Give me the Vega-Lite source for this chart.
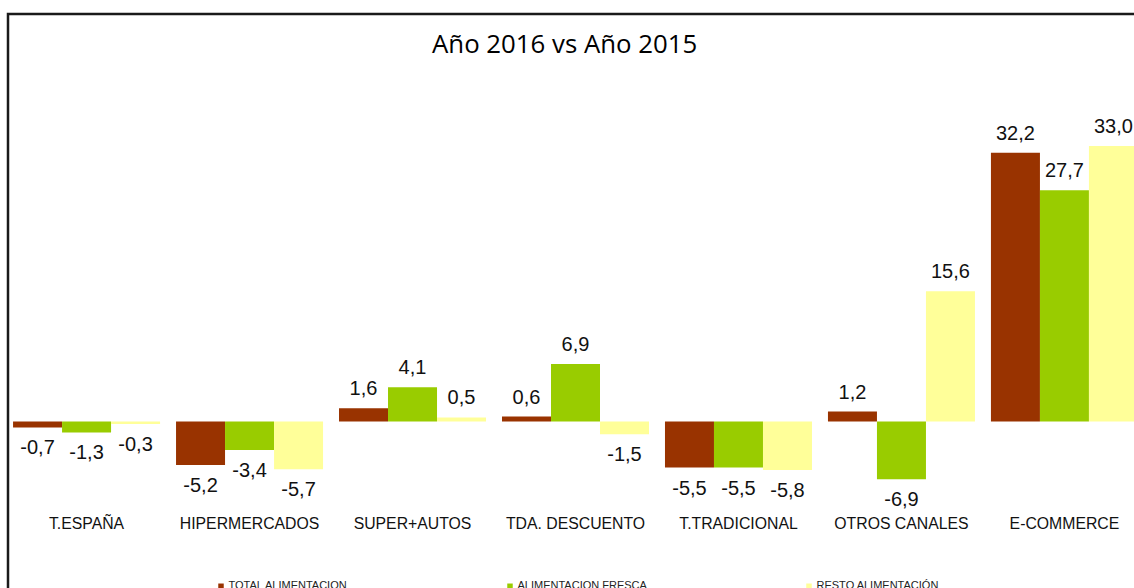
{
  "$schema": "https://vega.github.io/schema/vega-lite/v6.json",
  "autosize": "none",
  "width": 1135,
  "height": 583,
  "padding": {"left": 8, "top": 14, "right": 0, "bottom": 0},
  "background": "#ffffff",
  "title": {
    "text": "Año 2016 vs Año 2015",
    "font": "Open Sans",
    "fontSize": 25.8,
    "fontWeight": "normal",
    "color": "#000000",
    "anchor": "start",
    "dx": 424,
    "offset": -45
  },
  "config": {
    "locale": {"number": {"decimal": ",", "thousands": ".", "grouping": [3], "currency": ["", " €"], "minus": "-"}},
    "view": {"stroke": "#1a1a1a", "strokeWidth": 2.5},
    "font": "Liberation Sans"
  },
  "data": {
    "values": [
      {"canal": "T.ESPAÑA", "serie": "TOTAL ALIMENTACION", "valor": -0.7},
      {"canal": "T.ESPAÑA", "serie": "ALIMENTACION FRESCA", "valor": -1.3},
      {"canal": "T.ESPAÑA", "serie": "RESTO ALIMENTACIÓN", "valor": -0.3},
      {"canal": "HIPERMERCADOS", "serie": "TOTAL ALIMENTACION", "valor": -5.2},
      {"canal": "HIPERMERCADOS", "serie": "ALIMENTACION FRESCA", "valor": -3.4},
      {"canal": "HIPERMERCADOS", "serie": "RESTO ALIMENTACIÓN", "valor": -5.7},
      {"canal": "SUPER+AUTOS", "serie": "TOTAL ALIMENTACION", "valor": 1.6},
      {"canal": "SUPER+AUTOS", "serie": "ALIMENTACION FRESCA", "valor": 4.1},
      {"canal": "SUPER+AUTOS", "serie": "RESTO ALIMENTACIÓN", "valor": 0.5},
      {"canal": "TDA. DESCUENTO", "serie": "TOTAL ALIMENTACION", "valor": 0.6},
      {"canal": "TDA. DESCUENTO", "serie": "ALIMENTACION FRESCA", "valor": 6.9},
      {"canal": "TDA. DESCUENTO", "serie": "RESTO ALIMENTACIÓN", "valor": -1.5},
      {"canal": "T.TRADICIONAL", "serie": "TOTAL ALIMENTACION", "valor": -5.5},
      {"canal": "T.TRADICIONAL", "serie": "ALIMENTACION FRESCA", "valor": -5.5},
      {"canal": "T.TRADICIONAL", "serie": "RESTO ALIMENTACIÓN", "valor": -5.8},
      {"canal": "OTROS CANALES", "serie": "TOTAL ALIMENTACION", "valor": 1.2},
      {"canal": "OTROS CANALES", "serie": "ALIMENTACION FRESCA", "valor": -6.9},
      {"canal": "OTROS CANALES", "serie": "RESTO ALIMENTACIÓN", "valor": 15.6},
      {"canal": "E-COMMERCE", "serie": "TOTAL ALIMENTACION", "valor": 32.2},
      {"canal": "E-COMMERCE", "serie": "ALIMENTACION FRESCA", "valor": 27.7},
      {"canal": "E-COMMERCE", "serie": "RESTO ALIMENTACIÓN", "valor": 33.0}
    ]
  },
  "encoding": {
    "x": {
      "field": "canal",
      "type": "nominal",
      "sort": null,
      "scale": {"paddingInner": 0.098, "paddingOuter": 0.031},
      "axis": null
    }
  },
  "layer": [
    {
      "mark": {"type": "bar"},
      "encoding": {
        "xOffset": {"field": "serie", "type": "nominal", "sort": null, "scale": {"paddingInner": 0, "paddingOuter": 0}},
        "y": {"field": "valor", "type": "quantitative", "scale": {"domain": [-21, 48.8], "nice": false}, "axis": null},
        "color": {
          "field": "serie",
          "type": "nominal",
          "sort": null,
          "scale": {"domain": ["TOTAL ALIMENTACION", "ALIMENTACION FRESCA", "RESTO ALIMENTACIÓN"], "range": ["#993300", "#99CC00", "#FFFF99"]},
          "legend": {
            "title": null,
            "orient": "none",
            "direction": "horizontal",
            "legendX": 207.5,
            "legendY": 566.5,
            "padding": 0,
            "symbolType": "square",
            "symbolSize": 30,
            "symbolStrokeWidth": 0,
            "labelFont": "Liberation Sans",
            "labelFontSize": 11,
            "labelColor": "#222222",
            "labelOffset": 2,
            "columnPadding": 156,
            "labelLimit": 300
          }
        }
      }
    },
    {
      "transform": [{"filter": "datum.valor >= 0"}],
      "mark": {"type": "text", "baseline": "alphabetic", "dy": -13, "fontSize": 20, "font": "Liberation Sans", "color": "#111111"},
      "encoding": {
        "xOffset": {"field": "serie", "type": "nominal", "sort": null},
        "y": {"field": "valor", "type": "quantitative"},
        "text": {"field": "valor", "type": "quantitative", "format": ".1f"}
      }
    },
    {
      "transform": [{"filter": "datum.valor < 0"}],
      "mark": {"type": "text", "baseline": "top", "dy": 11, "fontSize": 20, "font": "Liberation Sans", "color": "#111111"},
      "encoding": {
        "xOffset": {"field": "serie", "type": "nominal", "sort": null},
        "y": {"field": "valor", "type": "quantitative"},
        "text": {"field": "valor", "type": "quantitative", "format": ".1f"}
      }
    },
    {
      "transform": [{"filter": "datum.serie === 'TOTAL ALIMENTACION'"}],
      "mark": {"type": "text", "baseline": "alphabetic", "fontSize": 15.8, "font": "Liberation Sans", "color": "#111111"},
      "encoding": {
        "y": {"datum": -12.9},
        "text": {"field": "canal", "type": "nominal"}
      }
    }
  ]
}
